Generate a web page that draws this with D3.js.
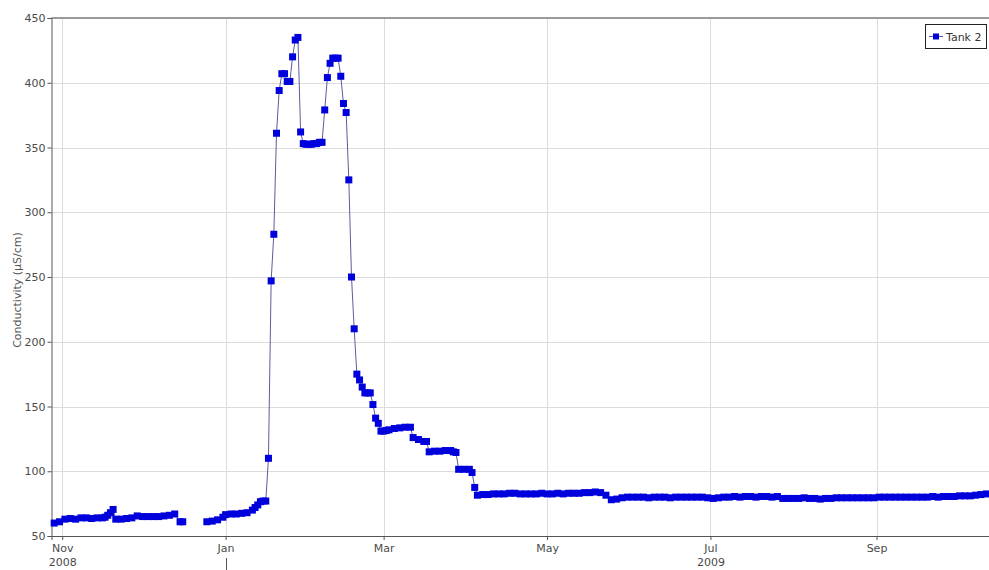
<!DOCTYPE html>
<html>
<head>
<meta charset="utf-8">
<script src="https://cdn.jsdelivr.net/npm/d3@7"></script>
<style>
  body { margin: 0; background: #fff; }
  svg { display: block; font-family: "DejaVu Sans", sans-serif; }
</style>
</head>
<body>
<div id="display"></div>
<script>
// days counted from 1 Nov 2008
var baseDate = Date.UTC(2008, 10, 1);

var dayOffsets = [
  -3, -1, 1, 3, 5, 7, 9, 11, 13, 15, 16, 17, 18, 19, 20, 22, 24, 26, 28, 30, 32, 34, 36, 38, 40, 42, 44, 45,
  50,
  54, 56, 58, 60, 61, 63, 65, 67, 69, 71, 72, 73, 74, 75, 76, 77, 78, 79, 80, 81, 82, 83, 84, 85, 86, 87, 88, 89,
  90, 91, 92, 93, 94, 95, 96, 97, 98, 99, 100, 101, 102, 103, 104, 105, 106, 107, 108, 109, 110, 111, 112, 113,
  114, 115, 116, 117, 118, 119, 120, 121, 122, 124, 126, 128, 130, 131, 133, 135, 136, 137, 139, 141, 143, 145,
  146, 147, 148, 150, 152, 153, 154,
  155, 157, 159, 161, 163, 165, 167, 169, 171, 173, 175, 177, 179, 181, 183, 185, 187, 189, 191, 193, 195, 197,
  199, 201, 203, 205, 207, 209, 211, 213, 215, 217, 219, 221, 223, 225, 227, 229, 231, 233, 235, 237, 239, 241,
  243, 245, 247, 249, 251, 253, 255, 257, 259, 261, 263, 265, 267, 269, 271, 273, 275, 277, 279, 281, 283, 285,
  287, 289, 291, 293, 295, 297, 299, 301, 303, 305, 307, 309, 311, 313, 315, 317, 319, 321, 323, 325, 327, 329,
  331, 333, 335, 337, 339, 341, 343, 345
];

var conductivity = [
  60, 61, 63, 63.5, 63, 64, 64, 63.5, 64, 64, 64.5, 66, 68, 70.5, 63, 63, 63.5, 64, 65.5, 65, 65, 65, 65, 65.5, 66, 67, 61, 61,
  null,
  61, 61.5, 62.5, 64.5, 66.5, 67, 67, 67.5, 68, 70, 72, 74, 76.5, 77, 77, 110, 247, 283, 361, 394, 407, 407, 401, 401, 420, 433, 435, 362,
  353, 352.5, 352.5, 352.5, 353, 353, 354, 354, 379, 404, 415, 419, 419, 419, 405, 384, 377, 325, 250, 210, 175, 170.5, 165, 160.5,
  160.5, 160.5, 151.5, 141, 137, 131, 131, 131.5, 132, 133, 133.5, 134, 134, 126, 124.5, 123, 123, 115, 115.5, 115.5, 116, 116,
  115, 114.5, 101.5, 101.5, 101.5, 99, 87.5,
  81.5, 82, 82, 82.5, 82.5, 82.5, 83, 83, 82.5, 82.5, 82.5, 82.5, 83, 82.5, 82.5, 83, 82.5, 83, 83, 83, 83.5, 83.5,
  84, 83.5, 81.5, 78, 78.5, 79.5, 80, 80, 80, 80, 79.5, 80, 80, 80, 79.5, 80, 80, 80, 80, 80, 80, 79.5,
  79, 79.5, 80, 80, 80.5, 80, 80.5, 80.5, 80, 80.5, 80.5, 80, 80.5, 79, 79, 79, 79, 79.5, 79, 79, 78.5, 79,
  79, 79.5, 79.5, 79.5, 79.5, 79.5, 79.5, 79.5, 79.5, 80, 80, 80, 80, 80, 80, 80, 80, 80, 80, 80.5, 80, 80.5,
  80.5, 80.5, 81, 81, 81, 81.5, 82, 82.5, 83
];

var seriesName = "Tank 2";
var yTicks = [50, 100, 150, 200, 250, 300, 350, 400, 450];
var xTickDates = ["2008-11-01", "2009-01-01", "2009-03-01", "2009-05-01", "2009-07-01", "2009-09-01"];
var xTickLabels = ["Nov", "Jan", "Mar", "May", "Jul", "Sep"];
var xTickYears = ["2008", "", "", "", "2009", ""];

var width = 989, height = 570;
var plot = {left: 51.5, right: 989, top: 18, bottom: 536};
var markerSize = 7;

var data = dayOffsets.map(function(d, i) {
  return {date: new Date(baseDate + d * 86400000), value: conductivity[i]};
});

var x = d3.scaleUtc()
  .domain([new Date(Date.UTC(2008, 9, 28)), new Date(Date.UTC(2009, 9, 13))])
  .range([plot.left, plot.right]);
var y = d3.scaleLinear().domain([50, 450]).range([plot.bottom, plot.top]);

var tickDates = xTickDates.map(function(s) { return new Date(s + "T00:00:00Z"); });

var svg = d3.select("#display").append("svg")
  .attr("width", width)
  .attr("height", height);

// grid
svg.append("g")
  .selectAll("line")
  .data(yTicks.slice(1))
  .enter().append("line")
  .attr("x1", plot.left).attr("x2", plot.right)
  .attr("y1", function(d) { return Math.round(y(d)) + 0.5; })
  .attr("y2", function(d) { return Math.round(y(d)) + 0.5; })
  .attr("stroke", "#dcdcdc");

svg.append("g")
  .selectAll("line")
  .data(tickDates)
  .enter().append("line")
  .attr("x1", function(d) { return Math.round(x(d)) + 0.5; })
  .attr("x2", function(d) { return Math.round(x(d)) + 0.5; })
  .attr("y1", plot.top).attr("y2", plot.bottom)
  .attr("stroke", "#dcdcdc");

// top border
svg.append("line")
  .attr("x1", plot.left).attr("x2", plot.right)
  .attr("y1", plot.top).attr("y2", plot.top)
  .attr("stroke", "#9a9a9a").attr("stroke-width", 2);

// axes
var yAxis = svg.append("g")
  .attr("transform", "translate(" + plot.left + ",0)")
  .call(d3.axisLeft(y).tickValues(yTicks).tickSize(4).tickPadding(2));

var xAxis = svg.append("g")
  .attr("transform", "translate(0," + plot.bottom + ")")
  .call(d3.axisBottom(x).tickValues(tickDates).tickSize(4).tickFormat(function(d, i) { return xTickLabels[i]; }));

[yAxis, xAxis].forEach(function(g) {
  g.select(".domain").attr("stroke", "#555");
  g.selectAll(".tick line").attr("stroke", "#555");
  g.selectAll(".tick text").attr("fill", "#4a4a4a").style("font-size", "11px").style("font-family", "DejaVu Sans, sans-serif");
});
xAxis.selectAll(".tick text").attr("y", 16).attr("dy", 0);

xAxis.selectAll(".tick")
  .append("text")
  .attr("y", 30)
  .attr("fill", "#4a4a4a")
  .style("font-size", "11px")
  .style("font-family", "DejaVu Sans, sans-serif")
  .attr("text-anchor", "middle")
  .text(function(d, i) { return xTickYears[i]; });

// year boundary marker under Jan
svg.append("line")
  .attr("x1", Math.round(x(tickDates[1])) + 0.5).attr("x2", Math.round(x(tickDates[1])) + 0.5)
  .attr("y1", 558).attr("y2", 570)
  .attr("stroke", "#555");

// y label
svg.append("text")
  .attr("transform", "translate(21,290) rotate(-90)")
  .attr("text-anchor", "middle")
  .attr("fill", "#555")
  .style("font-size", "11px")
  .text("Conductivity (µS/cm)");

// series
var valueline = d3.line()
  .defined(function(d) { return d.value !== null; })
  .x(function(d) { return x(d.date); })
  .y(function(d) { return y(d.value); });

svg.append("path")
  .datum(data)
  .attr("d", valueline)
  .attr("fill", "none")
  .attr("stroke", "#5c5c9c")
  .attr("stroke-width", 1);

svg.append("g")
  .selectAll("rect")
  .data(data.filter(function(d) { return d.value !== null; }))
  .enter().append("rect")
  .attr("x", function(d) { return x(d.date) - markerSize / 2; })
  .attr("y", function(d) { return y(d.value) - markerSize / 2; })
  .attr("width", markerSize).attr("height", markerSize)
  .attr("fill", "#0000dd");

// legend
var legend = svg.append("g").attr("transform", "translate(925,24)");
legend.append("rect")
  .attr("x", 0.5).attr("y", 0.5).attr("width", 61).attr("height", 24)
  .attr("fill", "#fff").attr("stroke", "#222");
legend.append("line")
  .attr("x1", 4).attr("x2", 18).attr("y1", 12.5).attr("y2", 12.5)
  .attr("stroke", "#5c5c9c");
legend.append("rect")
  .attr("x", 8).attr("y", 9.5).attr("width", 6).attr("height", 6)
  .attr("fill", "#0000dd");
legend.append("text")
  .attr("x", 21).attr("y", 16.5)
  .attr("fill", "#333")
  .style("font-size", "11px")
  .text(seriesName);
</script>
</body>
</html>
